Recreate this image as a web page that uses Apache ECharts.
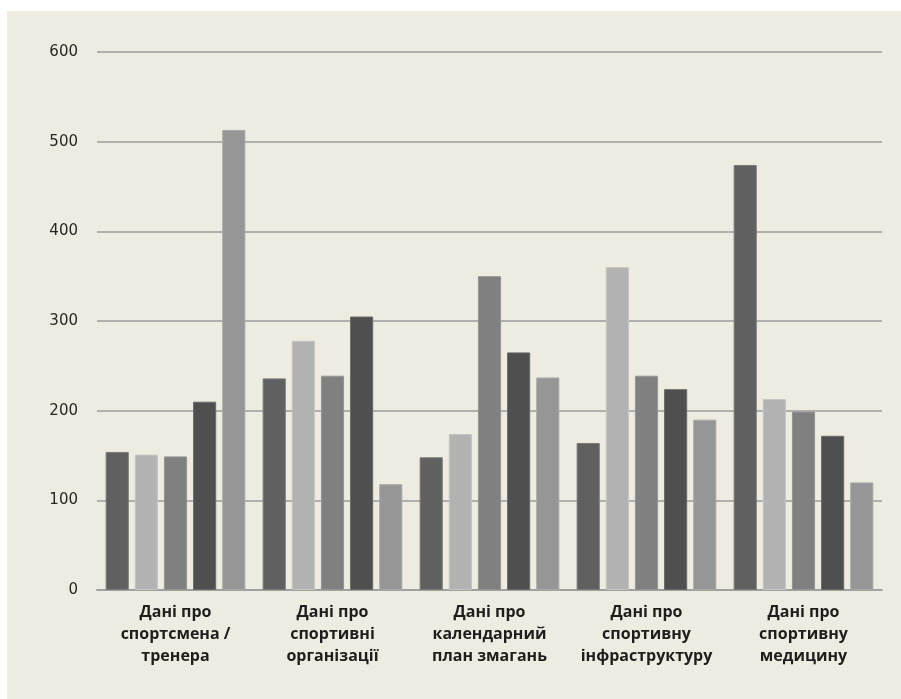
<!DOCTYPE html>
<html>
<head>
<meta charset="utf-8">
<script src="https://cdn.jsdelivr.net/npm/echarts@6/dist/echarts.min.js"></script>
<style>
html,body{margin:0;padding:0;background:#ffffff;}
#c{width:901px;height:699px;}
</style>
</head>
<body>
<div id="c"></div>
<script>
var categories = [
  "Дані про\nспортсмена /\nтренера",
  "Дані про\nспортивні\nорганізації",
  "Дані про\nкалендарний\nплан змагань",
  "Дані про\nспортивну\nінфраструктуру",
  "Дані про\nспортивну\nмедицину"
];
var series1 = [154, 236, 148, 164, 474];
var series2 = [151, 278, 174, 360, 213];
var series3 = [149, 239, 350, 239, 199];
var series4 = [210, 305, 265, 224, 172];
var series5 = [513, 118, 237, 190, 120];
var yTicks = [0, 100, 200, 300, 400, 500, 600];

var colors = ['#606060', '#b2b2b2', '#808080', '#4f4f4f', '#969696'];
var borders = ['#7a7a7a', '#c4c4c4', '#959595', '#6a6a6a', '#a8a8a8'];
var allSeries = [series1, series2, series3, series4, series5];

var chart = echarts.init(document.getElementById('c'));
chart.setOption({
  backgroundColor: '#ffffff',
  animation: false,
  graphic: [{
    type: 'rect', z: -10, silent: true,
    shape: {x: 7, y: 11, width: 894, height: 688},
    style: {fill: '#eeece1'}
  }],
  grid: {left: 97, right: 19, top: 52, bottom: 109},
  xAxis: {
    type: 'category',
    data: categories,
    axisLine: {show: true, lineStyle: {color: '#a0a0a0', width: 2}},
    axisTick: {show: false},
    axisLabel: {
      color: '#1e1e1e', fontFamily: 'Open Sans', fontWeight: 'bold', fontSize: 16,
      lineHeight: 22, margin: 11, interval: 0
    }
  },
  yAxis: {
    type: 'value', min: yTicks[0], max: yTicks[yTicks.length - 1], interval: 100,
    axisLine: {show: false}, axisTick: {show: false},
    axisLabel: {color: '#262626', fontFamily: 'DejaVu Sans', fontSize: 15, margin: 19},
    splitLine: {lineStyle: {color: '#9c9c9c', width: 1.5}}
  },
  series: allSeries.map(function (d, i) {
    return {
      type: 'bar', data: d,
      barGap: '26%', barCategoryGap: '11%',
      itemStyle: {color: colors[i], borderColor: borders[i], borderWidth: 1}
    };
  })
});
</script>
</body>
</html>
